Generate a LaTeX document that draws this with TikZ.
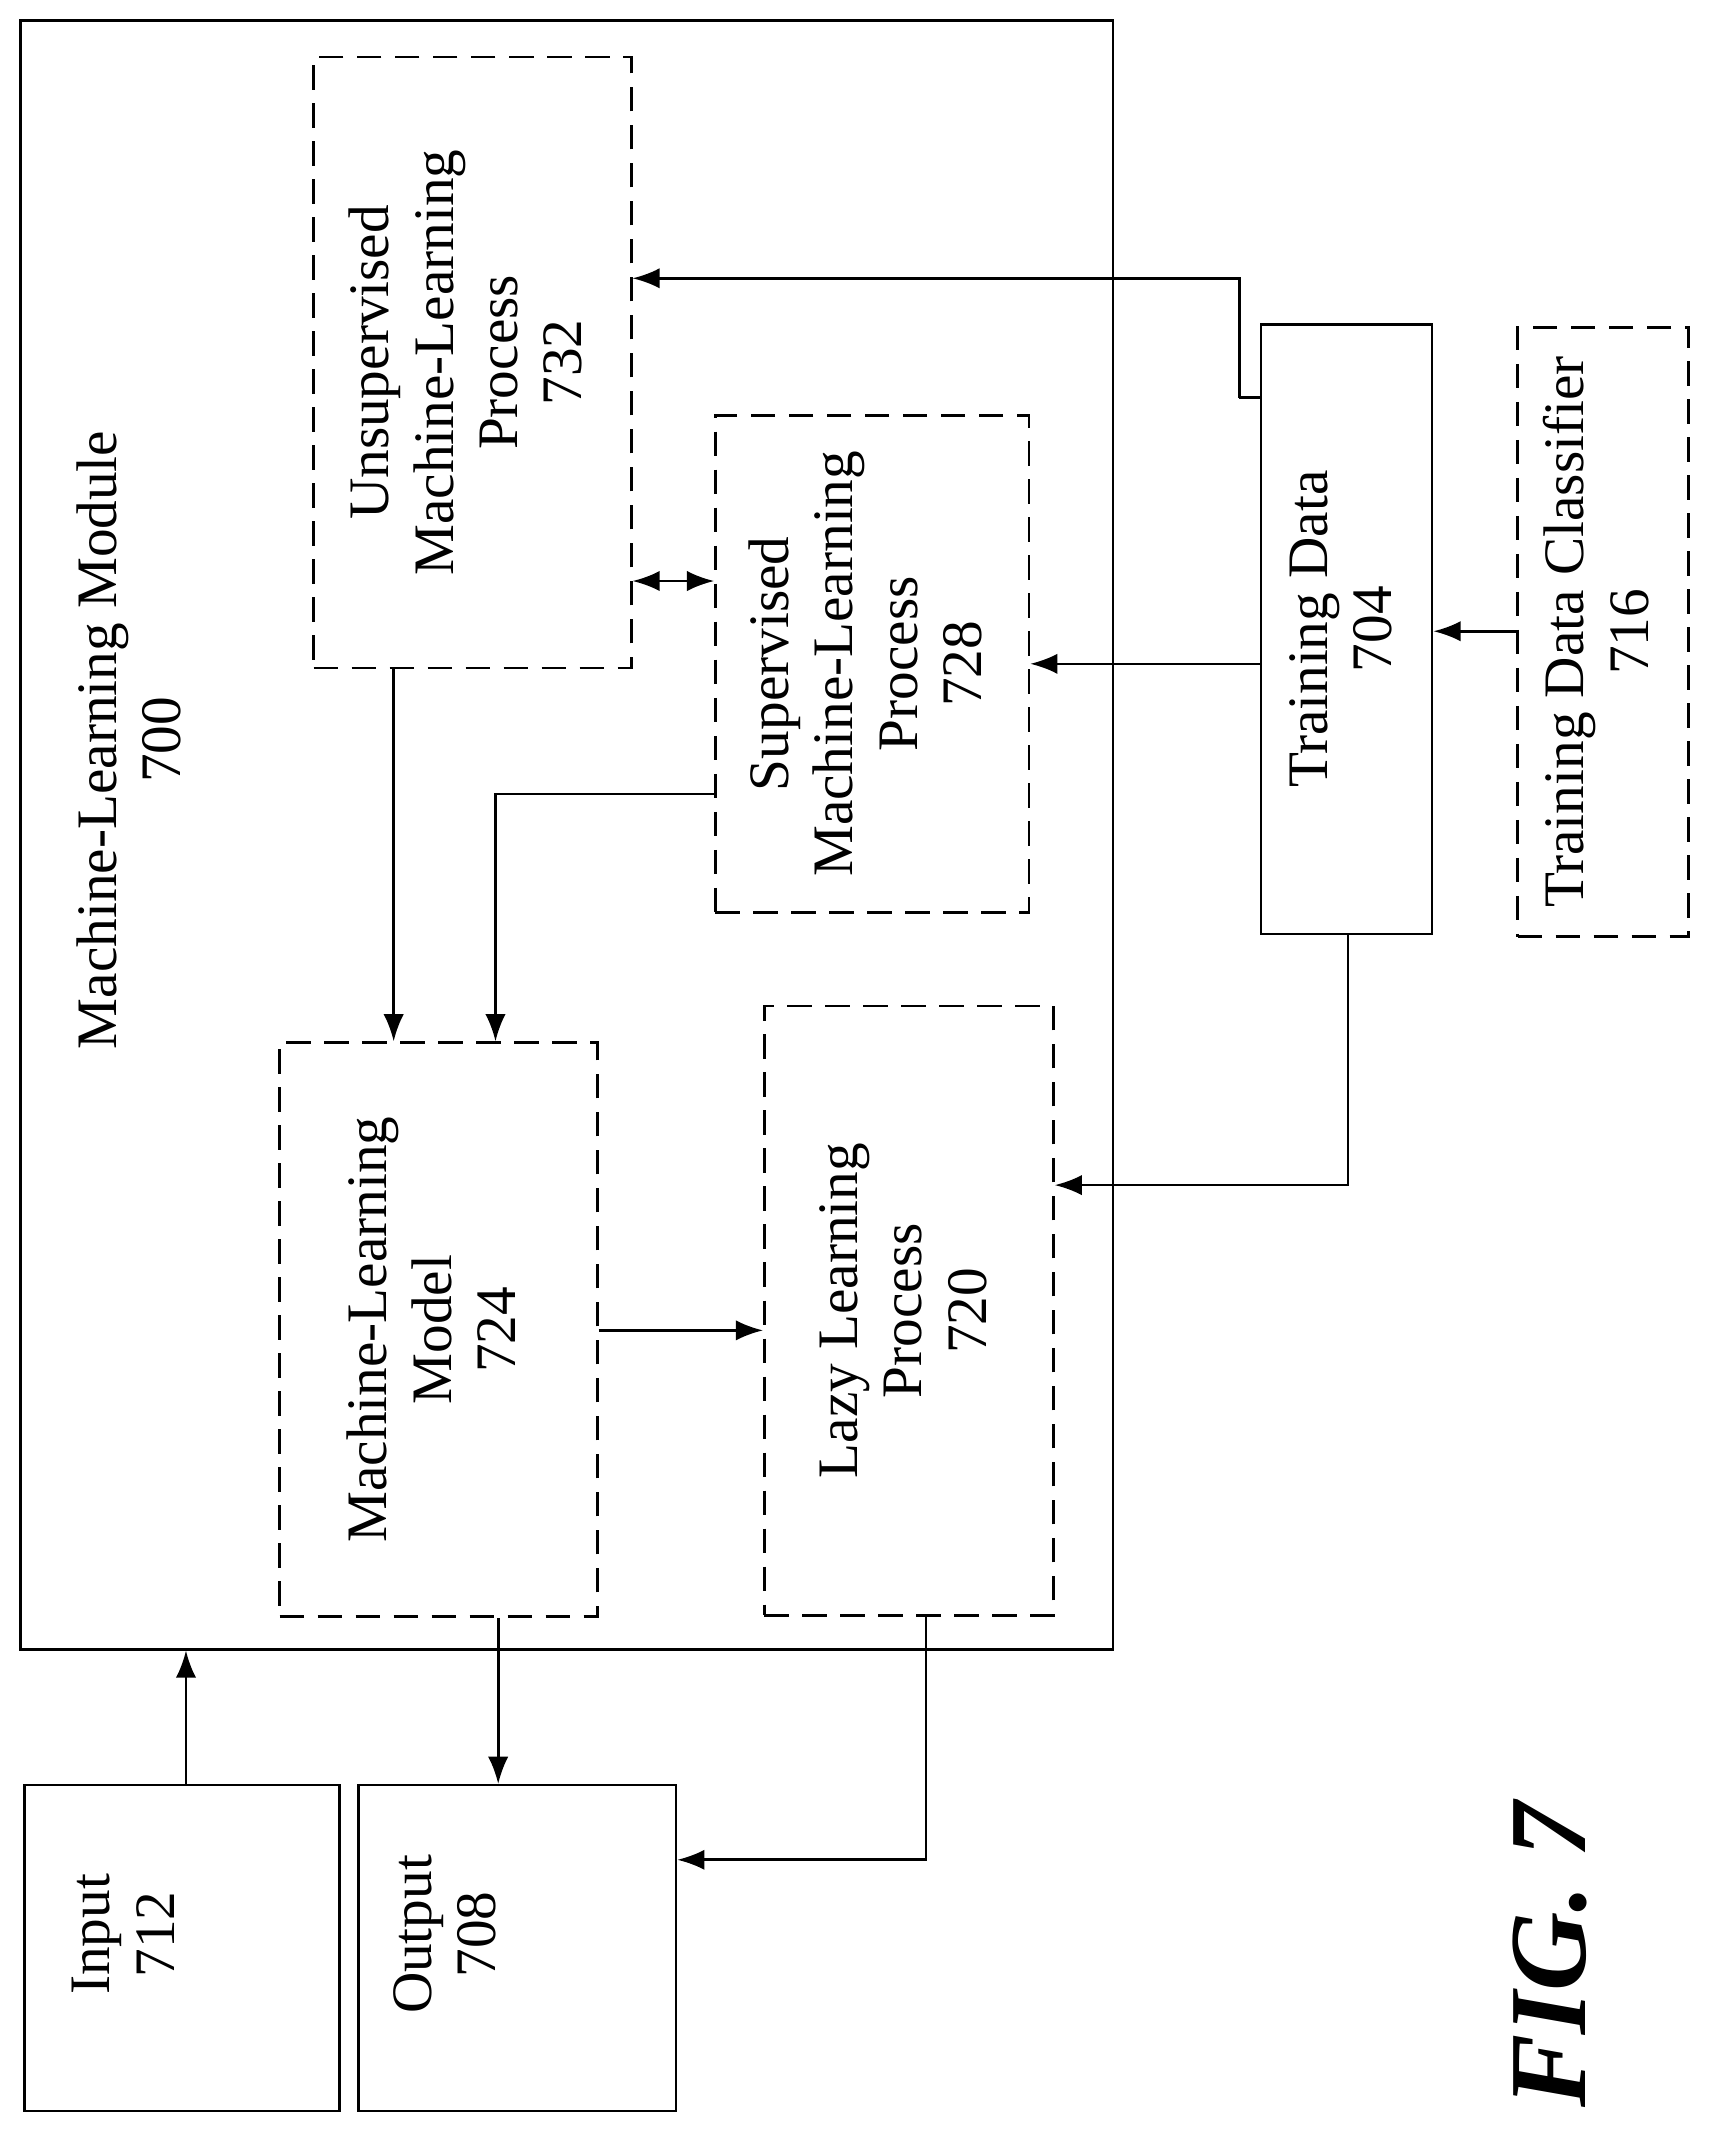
\documentclass[tikz,border=0pt]{standalone}
\usepackage{fontspec}
\setmainfont{Liberation Serif}
\usetikzlibrary{arrows.meta}

\tikzset{
	box/.style={draw, line width=1.1pt, inner sep=0pt},
	dbox/.style={box, dash pattern=on 0.36cm off 0.2cm},
	txt/.style={font=\fontsize{24}{27}\selectfont, align=center},
	conn/.style={line width=1.1pt, -{Latex[length=0.4cm,width=0.3cm]}},
}
\newcommand{\vtext}[1]{\rotatebox{90}{\begin{tabular}{@{}c@{}}#1\end{tabular}}}

\begin{document}
\begin{tikzpicture}[x=0.02cm, y=-0.02cm]
	\useasboundingbox (0,0) rectangle (1264,1572);
	
	% Module
	\node[box, minimum width=16.1cm, minimum height=24cm] (module) at (417.5,615) {};
	\node[txt] (modlabel) at (100,545) {\vtext{Machine-Learning Module\\700}};
	
	% Boxes
	\node[dbox, txt, minimum width=4.68cm, minimum height=9cm] (unsup) at (348,267) {\vtext{Unsupervised\\Machine-Learning\\Process\\732}};
	\node[dbox, txt, minimum width=4.62cm, minimum height=7.32cm] (sup) at (642.5,489) {\vtext{Supervised\\Machine-Learning\\Process\\728}};
	\node[box, txt, minimum width=2.52cm, minimum height=8.98cm] (train) at (992,463.5) {\vtext{Training Data\\704}};
	\node[dbox, txt, minimum width=2.52cm, minimum height=8.98cm] (classifier) at (1181,465.5) {\vtext{Training Data Classifier\\716}};
	\node[dbox, txt, minimum width=4.68cm, minimum height=8.46cm] (model) at (323,979.5) {\vtext{Machine-Learning\\Model\\724}};
	\node[dbox, txt, minimum width=4.26cm, minimum height=8.98cm] (lazy) at (669.5,965.5) {\vtext{Lazy Learning\\Process\\720}};
	
	% Input / Output
	\node[box, minimum width=4.64cm, minimum height=4.8cm] (input) at (134,1435) {};
	\node[txt] (inlabel) at (95,1425) {\vtext{Input\\712}};
	\node[box, minimum width=4.68cm, minimum height=4.8cm] (output) at (381,1435) {};
	\node[txt] (outlabel) at (332,1425) {\vtext{Output\\708}};
	
	\node[font=\fontsize{46}{50}\selectfont\bfseries\itshape] (fig) at (1142,1440) {\rotatebox{90}{FIG. 7}};
	
	% Helper points
	\coordinate (c1) at (913,293);
	\coordinate (c2) at (913,205);
	\coordinate (c3) at (993,873);
	\coordinate (c4) at (365,585);
	\coordinate (c5) at (682,1370);
	
	% Connectors
	\draw[line width=1.1pt] (train.west |- c1) -- (c1);
	\draw[conn] (c1) -- (c2) -- (unsup.east |- c2);
	\draw[conn] (train.west |- sup.east) -- (sup.east);
	\draw[conn] (classifier.west |- 0,465) -- (train.east |- 0,465);
	\draw[conn] (train.south -| c3) -- (c3) -- (lazy.east |- c3);
	\draw[line width=1.1pt, {Latex[length=0.4cm,width=0.3cm]}-{Latex[length=0.4cm,width=0.3cm]}] (unsup.east |- 0,428) -- (sup.west |- 0,428);
	\draw[conn] (unsup.south -| 290,0) -- (model.north -| 290,0);
	\draw[conn] (sup.west |- c4) -- (c4) -- (model.north -| c4);
	\draw[conn] (model.east |- 0,980) -- (lazy.west |- 0,980);
	\draw[conn] (model.south -| 367,0) -- (output.north -| 367,0);
	\draw[conn] (lazy.south -| c5) -- (c5) -- (output.east |- c5);
	\draw[conn] (input.north -| 137,0) -- (module.south -| 137,0);
\end{tikzpicture}
\end{document}
